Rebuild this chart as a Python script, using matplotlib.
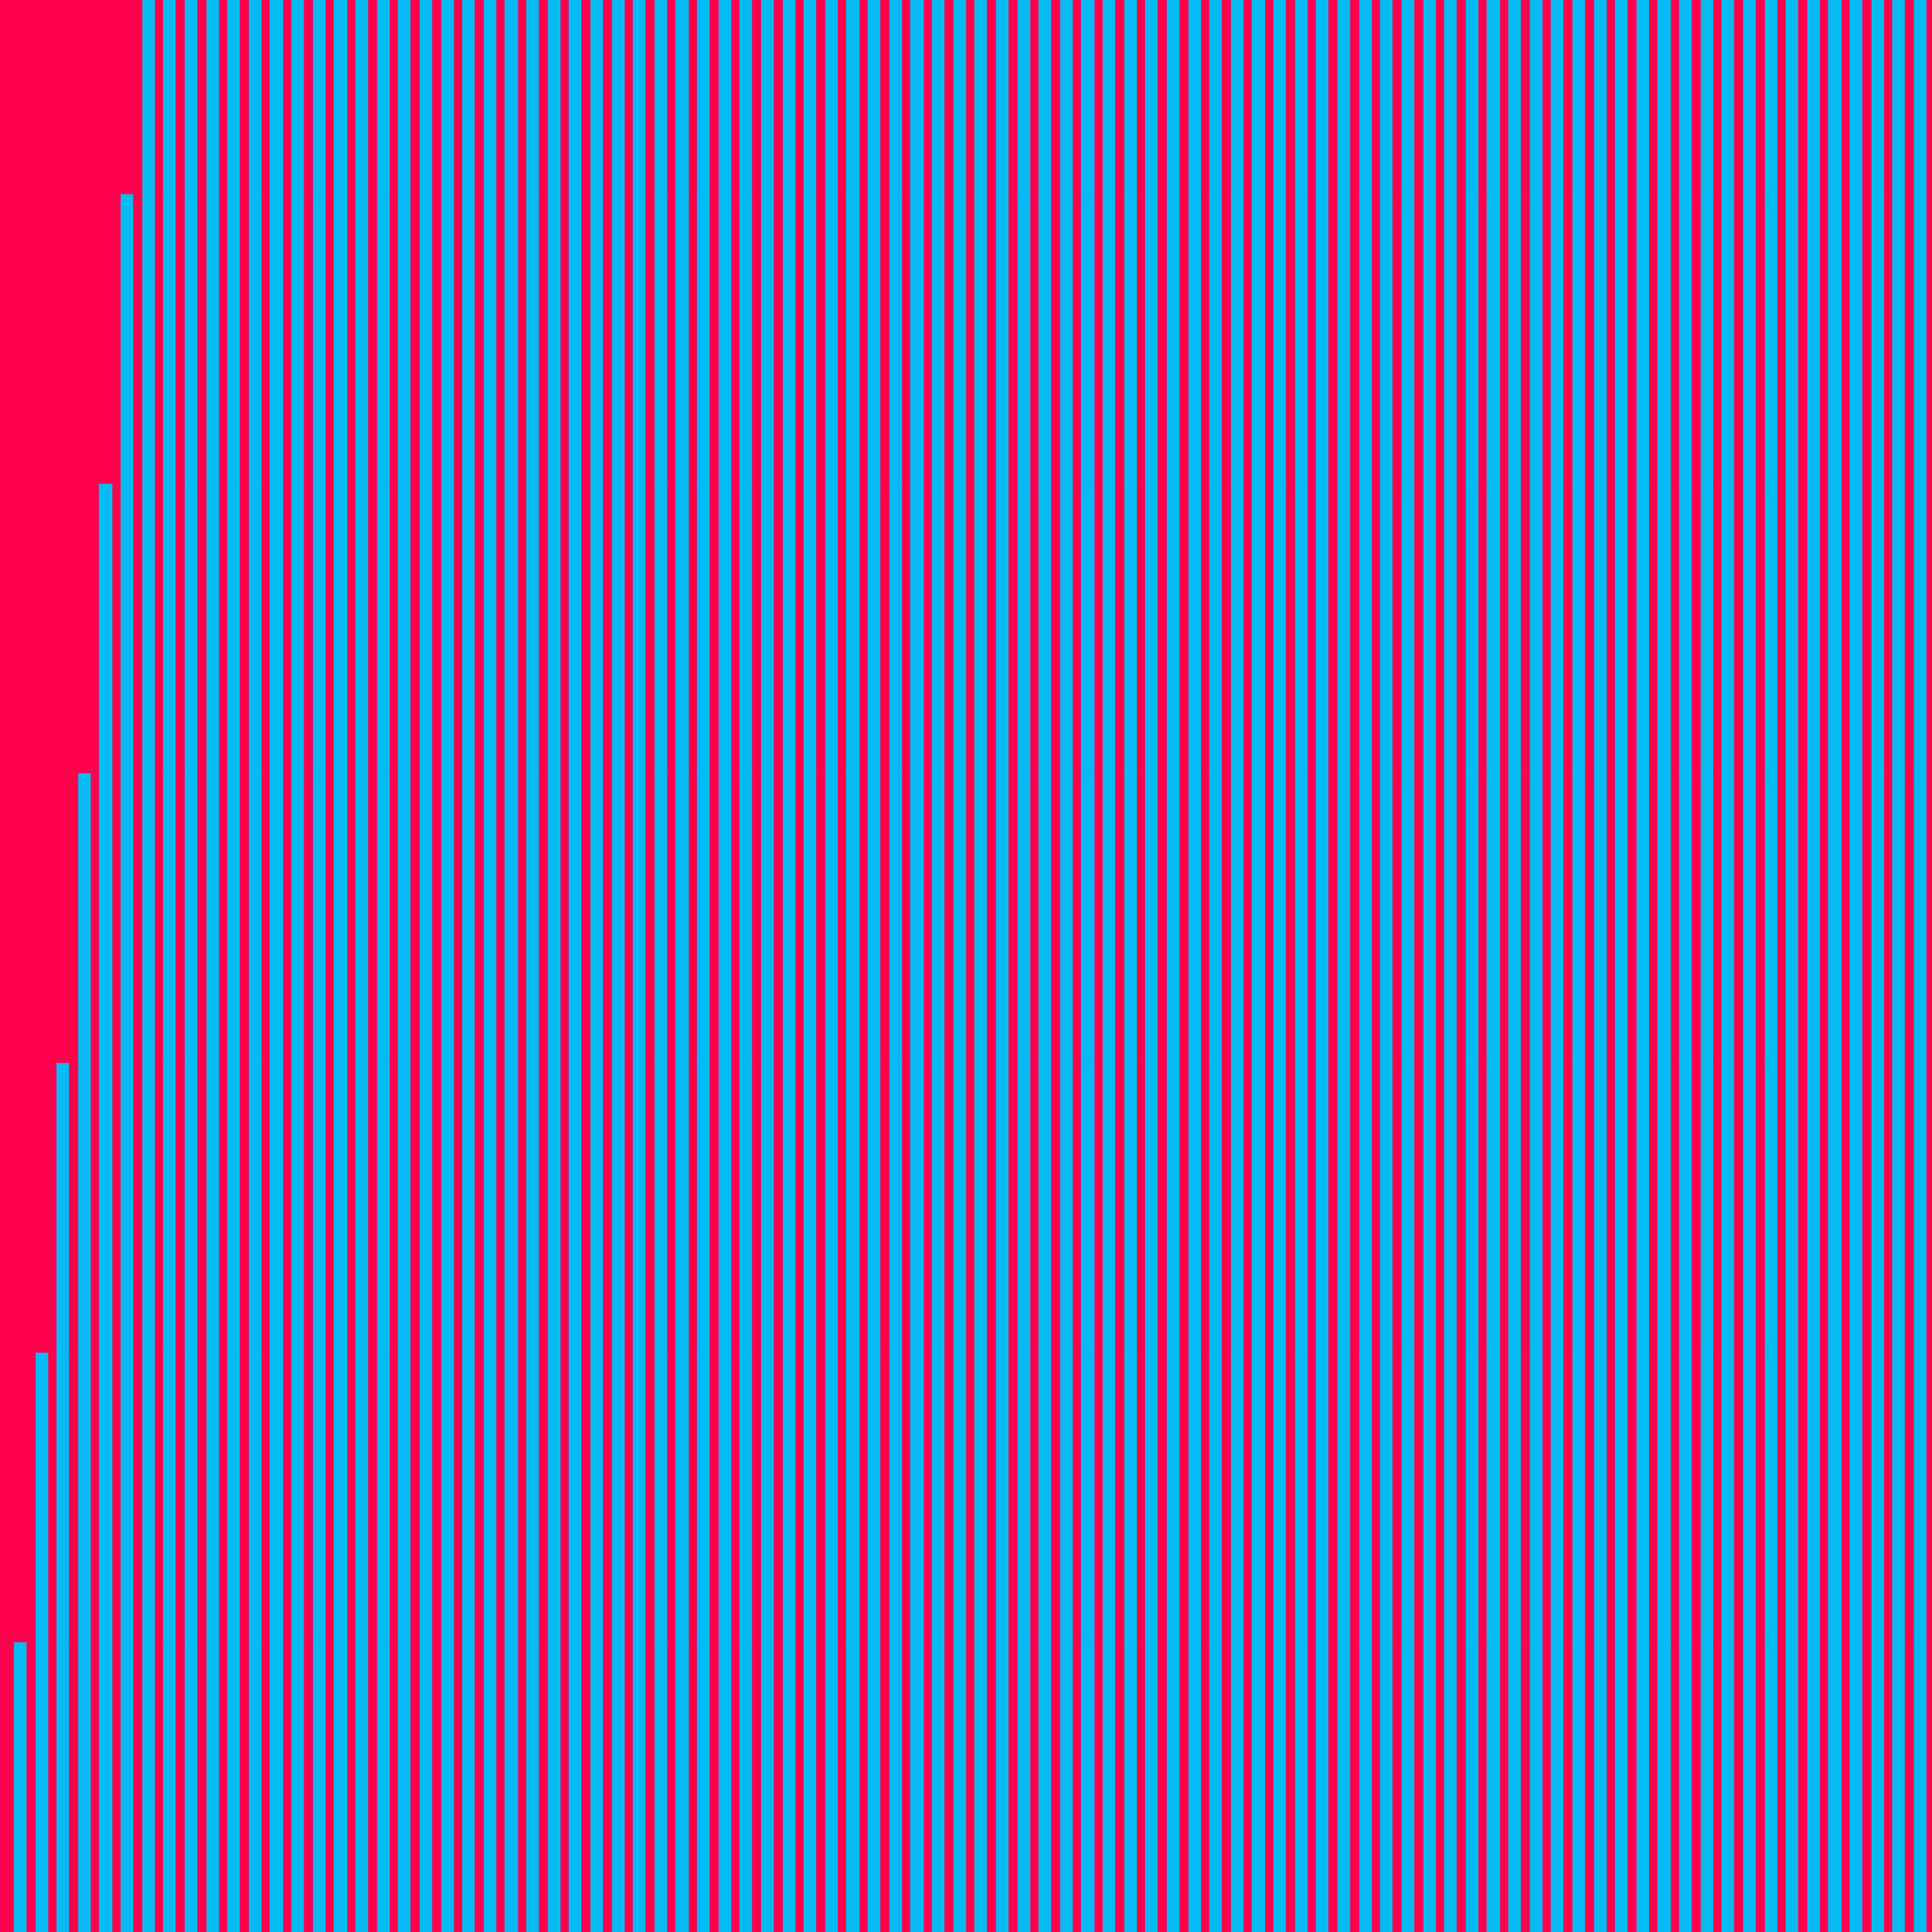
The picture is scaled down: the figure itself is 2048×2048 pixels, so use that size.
import matplotlib
matplotlib.use("Agg")
import matplotlib.pyplot as plt

# one value per bar, left to right (only the first six fit under the top edge)
values = [1, 2, 3, 4, 5, 6, 7, 8, 9, 10,
          11, 12, 13, 14, 15, 16, 17, 18, 19, 20,
          21, 22, 23, 24, 25, 26, 27, 28, 29, 30,
          31, 32, 33, 34, 35, 36, 37, 38, 39, 40,
          41, 42, 43, 44, 45, 46, 47, 48, 49, 50,
          51, 52, 53, 54, 55, 56, 57, 58, 59, 60,
          61, 62, 63, 64, 65, 66, 67, 68, 69, 70,
          71, 72, 73, 74, 75, 76, 77, 78, 79, 80,
          81, 82, 83, 84, 85, 86, 87, 88, 89, 90]
positions = list(range(len(values)))

RED = '#FF004D'
CYAN = '#06BBF2'

fig = plt.figure(figsize=(20.48, 20.48), dpi=100)
fig.patch.set_facecolor(RED)
ax = fig.add_axes([0, 0, 1, 1])
ax.set_facecolor(RED)

# stack unit blocks so every level shows a faint seam like the original
for level in range(7):
    xs = [p for p, v in zip(positions, values) if v > level]
    ax.bar(xs, [1] * len(xs), bottom=level, width=0.58, color=CYAN,
           edgecolor=CYAN, linewidth=0.3)

ax.set_xlim(-0.95, len(values) - 0.45)
ax.set_ylim(0, 6.67)
ax.axis('off')

fig.savefig('out.png', dpi=100, facecolor=RED)
